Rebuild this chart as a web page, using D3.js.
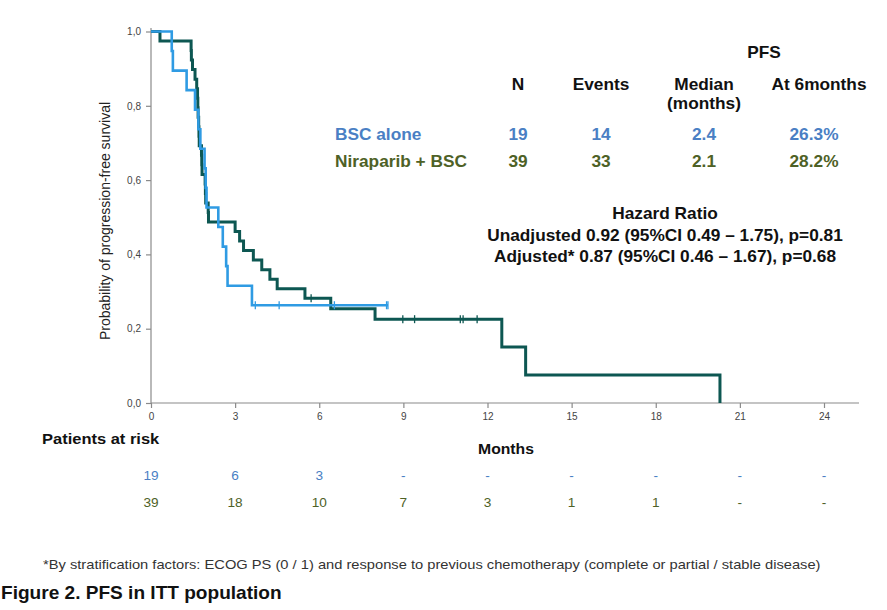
<!DOCTYPE html>
<html>
<head>
<meta charset="utf-8">
<script src="https://cdn.jsdelivr.net/npm/d3@7"></script>
<style>
  body { margin: 0; background: #fff; }
  text { font-family: "Liberation Sans", Arial, sans-serif; }
</style>
</head>
<body>
<script>
var w = 887,
    h = 610;

// Event / censor times (months)
var bscEvents = [0.74, 0.78, 1.27, 1.57, 1.69, 1.76, 1.91, 1.95, 1.98, 2.40, 2.56, 2.68, 2.73, 3.60];
var bscCensored = [3.72, 4.57, 6.54, 8.40, 8.45];
var niraEvents = [0.32, 1.43, 1.44, 1.48, 1.57, 1.63, 1.66, 1.67, 1.68, 1.70, 1.71, 1.72,
                  1.80, 1.81, 1.82, 1.93, 1.94, 1.95, 2.04, 2.05,
                  3.00, 3.16, 3.30, 3.65, 3.95, 4.24, 4.50, 5.49, 6.41, 7.99, 12.51, 13.36, 20.29];
var niraCensored = [5.71, 8.98, 9.40, 11.03, 11.13, 11.63];

var xTicks = [0, 3, 6, 9, 12, 15, 18, 21, 24];
var yTicks = [0, 0.2, 0.4, 0.6, 0.8, 1.0];

// Numbers at risk
var riskBsc = ['19', '6', '3', '-', '-', '-', '-', '-', '-'];
var riskNira = ['39', '18', '10', '7', '3', '1', '1', '-', '-'];

// Summary table
var tableHeaders = ['N', 'Events', 'Median', 'At 6months'];
var groupNames = ['BSC alone', 'Niraparib + BSC'];
var bscRow = ['19', '14', '2.4', '26.3%'];
var niraRow = ['39', '33', '2.1', '28.2%'];
var hrLines = ['Hazard Ratio',
               'Unadjusted 0.92 (95%CI 0.49 \u2013 1.75), p=0.81',
               'Adjusted* 0.87 (95%CI 0.46 \u2013 1.67), p=0.68'];

var lineBlue = '#2f9be3',
    lineGreen = '#0d5752',
    textBlue = '#4a7fc4',
    textGreen = '#4e6126';

var svg = d3.select('body')
            .append('svg')
            .attr('width', w)
            .attr('height', h);

var x = d3.scaleLinear().domain([0, 24]).range([151, 824]);
var y = d3.scaleLinear().domain([0, 1]).range([403, 31.5]);

// the original text is a little wider than Arial, stretch it sideways
function label(px, py, str, opts) {
  var t = svg.append('text')
             .attr('transform', 'translate(' + px + ',' + py + ') scale(' + (opts.sx || 1) + ',1)')
             .attr('text-anchor', opts.anchor || 'start')
             .attr('fill', opts.fill || '#111')
             .style('font-size', opts.size + 'px')
             .style('font-weight', opts.bold ? 'bold' : 'normal')
             .text(str);
  return t;
}

// axes
var xAxis = svg.append('g')
               .attr('transform', 'translate(0,403)')
               .call(d3.axisBottom(x).tickValues(xTicks).tickSize(5).tickPadding(5));
xAxis.select('.domain').remove();
xAxis.append('line').attr('x1', 151).attr('x2', 859).attr('y1', 0).attr('y2', 0);

var yAxis = svg.append('g')
               .attr('transform', 'translate(151,0)')
               .call(d3.axisLeft(y).tickValues(yTicks).tickSize(5).tickPadding(5)
                       .tickFormat(function(d) { return d3.format('.1f')(d).replace('.', ','); }));
yAxis.select('.domain').remove();
yAxis.append('line').attr('x1', 0).attr('x2', 0).attr('y1', 28).attr('y2', 403);

svg.selectAll('.tick line, g > line').attr('stroke', '#8a8a8a').attr('stroke-width', 1.2);
svg.selectAll('.tick text')
   .style('font-family', '"Liberation Sans", Arial, sans-serif')
   .style('font-size', '10px')
   .attr('fill', '#444');

svg.append('text')
   .attr('transform', 'translate(110,221) rotate(-90)')
   .attr('text-anchor', 'middle')
   .style('font-size', '14px')
   .attr('fill', '#222')
   .text('Probability of progression-free survival');

// Kaplan-Meier step function from event and censor times
function km(events, censored, n) {
  var all = events.map(function(t) { return {t: t, e: 1}; })
                  .concat(censored.map(function(t) { return {t: t, e: 0}; }))
                  .sort(function(a, b) { return a.t - b.t; });
  var s = 1, atRisk = n, pts = [[0, 1]], marks = [];
  all.forEach(function(d) {
    if (d.e) {
      s = s * (atRisk - 1) / atRisk;
      pts.push([d.t, s]);
    } else {
      marks.push([d.t, s]);
    }
    atRisk -= 1;
  });
  var last = all[all.length - 1];
  pts.push([last.t, s]);
  return {pts: pts, marks: marks};
}

var line = d3.line()
             .x(function(d) { return x(d[0]); })
             .y(function(d) { return y(d[1]); })
             .curve(d3.curveStepAfter);

var groups = [
  {data: km(niraEvents, niraCensored, 39), color: lineGreen, width: 3},
  {data: km(bscEvents, bscCensored, 19), color: lineBlue, width: 2.6}
];

groups.forEach(function(g) {
  svg.append('path')
     .attr('d', line(g.data.pts))
     .attr('fill', 'none')
     .attr('stroke', g.color)
     .attr('stroke-width', g.width);
  svg.selectAll(null)
     .data(g.data.marks)
     .enter()
     .append('line')
     .attr('x1', function(d) { return x(d[0]); })
     .attr('x2', function(d) { return x(d[0]); })
     .attr('y1', function(d) { return y(d[1]) - 4; })
     .attr('y2', function(d) { return y(d[1]) + 4; })
     .attr('stroke', g.color)
     .attr('stroke-width', 1.3);
});

// numbers at risk
label(42, 444, 'Patients at risk', {size: 15, bold: true, sx: 1.1});
label(506, 454, 'Months', {size: 15, bold: true, anchor: 'middle', sx: 1.05});

[[riskBsc, textBlue, 480], [riskNira, textGreen, 507]].forEach(function(r) {
  r[0].forEach(function(d, i) {
    label(x(xTicks[i]), r[2], d, {size: 13, fill: r[1], anchor: 'middle', sx: 1.05});
  });
});

// summary table
var colX = [518, 601, 704, 819];
var tab = {size: 16, bold: true, anchor: 'middle', sx: 1.08};

label(764, 58, 'PFS', tab);
tableHeaders.forEach(function(d, i) { label(colX[i], 90, d, tab); });
label(colX[2], 109, '(months)', tab);

[[bscRow, textBlue, 140], [niraRow, textGreen, 167]].forEach(function(r, k) {
  label(335, r[2], groupNames[k], {size: 16, bold: true, fill: r[1], sx: 1.08});
  r[0].forEach(function(d, i) {
    label(i === 3 ? colX[i] - 5 : colX[i], r[2], d,
          {size: 16, bold: true, fill: r[1], anchor: 'middle', sx: 1.08});
  });
});

hrLines.forEach(function(d, i) {
  label(665, 219 + i * 21.5, d, {size: 16, bold: true, anchor: 'middle', sx: 1.08});
});

// footnote and caption
label(43, 569, '*By stratification factors: ECOG PS (0 / 1) and response to previous chemotherapy (complete or partial / stable disease)',
      {size: 13, fill: '#333', sx: 1.13});
label(1, 599, 'Figure 2. PFS in ITT population', {size: 18, bold: true, sx: 1.06});
</script>
</body>
</html>
